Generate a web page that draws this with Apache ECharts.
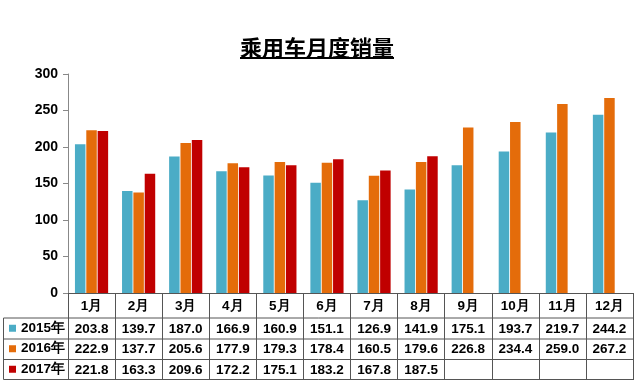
<!DOCTYPE html>
<html><head><meta charset="utf-8">
<script src="https://cdn.jsdelivr.net/npm/echarts@6/dist/echarts.min.js"></script>
<style>html,body{margin:0;padding:0;background:#fff}#c{width:640px;height:390px}</style>
</head><body><div id="c"></div>
<script>
var title = '乘用车月度销量';
var months = ['1月','2月','3月','4月','5月','6月','7月','8月','9月','10月','11月','12月'];
var seriesNames = ['2015年','2016年','2017年'];
var v2015 = [203.8,139.7,187.0,166.9,160.9,151.1,126.9,141.9,175.1,193.7,219.7,244.2];
var v2016 = [222.9,137.7,205.6,177.9,179.3,178.4,160.5,179.6,226.8,234.4,259.0,267.2];
var v2017 = [221.8,163.3,209.6,172.2,175.1,183.2,167.8,187.5,null,null,null,null];
var yTicks = [0,50,100,150,200,250,300];
var colors = ['#4BACC6','#E46C0A','#C00000'];

var FONT = 'Liberation Sans, Arial, sans-serif';
var all = [v2015, v2016, v2017];
function fmt(v){ return v == null ? ' ' : v.toFixed(1); }

var chart = echarts.init(document.getElementById('c'));
var L = 68, R = 633, lineColor = '#555';
var rows = [318, 339, 359.5, 379.5];
var graphics = [
  {type:'line', shape:{x1:240, y1:58, x2:394, y2:58}, style:{stroke:'#000', lineWidth:2}},
  {type:'line', shape:{x1:3.5, y1:318, x2:3.5, y2:379.5}, style:{stroke:lineColor, lineWidth:1}}
];
rows.forEach(function(y){
  graphics.push({type:'line', shape:{x1:3.5, y1:y, x2:R, y2:y}, style:{stroke:lineColor, lineWidth:1}});
});

chart.setOption({
  animation:false,
  title:{text:title, left:312, top:32, textAlign:'center',
    textStyle:{fontFamily:'Noto Sans CJK SC', fontWeight:'bold', fontSize:22, color:'#000'}},
  legend:{orient:'vertical', left:9, top:318, padding:0, itemGap:0,
    itemWidth:7, itemHeight:7, icon:'rect', data:seriesNames,
    textStyle:{fontFamily:FONT, fontWeight:'bold', fontSize:13.5, color:'#000', lineHeight:20.5}},
  grid:{left:L, right:640-R, top:74, bottom:97, containLabel:false},
  xAxis:{type:'category', data:months,
    axisLine:{lineStyle:{color:lineColor, width:1}},
    axisTick:{show:true, length:87, interval:0, lineStyle:{color:lineColor}},
    axisLabel:{interval:0, margin:0,
      formatter:function(val, idx){
        return '{m|' + val + '}\n' + all.map(function(s){ return '{v|' + fmt(s[idx]) + '}'; }).join('\n');
      },
      rich:{
        m:{fontFamily:FONT, fontWeight:'bold', fontSize:13.5, color:'#000', lineHeight:26},
        v:{fontFamily:FONT, fontWeight:'bold', fontSize:13.5, color:'#000', lineHeight:20.5}
      }}
  },
  yAxis:{type:'value', min:yTicks[0], max:yTicks[yTicks.length-1], interval:50,
    axisLine:{show:true, lineStyle:{color:'#888'}},
    axisTick:{show:true, inside:false, length:5, lineStyle:{color:'#888'}},
    splitLine:{show:false},
    axisLabel:{margin:10, fontFamily:FONT, fontWeight:'bold', fontSize:14, color:'#000'}},
  series: seriesNames.map(function(n, i){
    return {name:n, type:'bar', data:all[i], barWidth:10.5, barGap:'8%',
      itemStyle:{color:colors[i]}};
  }),
  graphic: graphics
});
</script></body></html>
